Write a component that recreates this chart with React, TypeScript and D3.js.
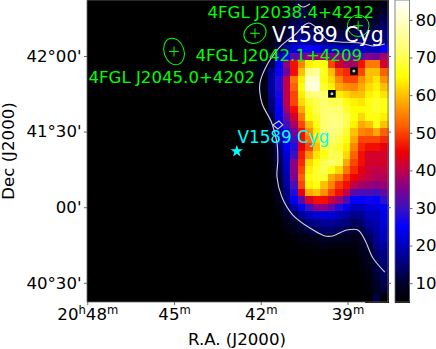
import React, { useEffect, useRef } from "react";
import * as d3 from "d3";

const FONT = "'DejaVu Sans', sans-serif";
const GREEN = "#00ff00";
const SPINE = "#666666";

// Map values per row, top to bottom. Each row is right-aligned on the last column,
// columns left of the listed values are under the colour floor.
const COLUMNS = 40;
const heatRows = [
  [9, 10, 9, 6, 5, 5, 5, 5, 5, 5, 5, 6, 8],
  [8, 11, 12, 10, 8, 6, 5, 5, 5, 5, 5, 7, 8, 10],
  [9, 12, 13, 11, 9, 8, 7, 7, 7, 7, 8, 9, 10, 12],
  [8, 10, 13, 14, 12, 11, 10, 9, 9, 9, 9, 10, 11, 12, 14],
  [6, 9, 11, 14, 15, 14, 13, 12, 12, 12, 11, 12, 13, 13, 13, 15],
  [7, 10, 13, 17, 19, 18, 16, 15, 15, 14, 13, 14, 15, 15, 15, 16],
  [5, 6, 8, 13, 18, 22, 26, 26, 24, 22, 21, 21, 20, 20, 20, 20, 20, 24],
  [5.5, 6.5, 8, 10, 20, 26, 32, 34, 36, 37, 37, 35, 36, 34, 33, 33, 35, 34, 38],
  [6, 7, 9, 12, 24, 36, 46, 55, 64, 66, 66, 50, 42, 38, 38, 46, 54, 54, 42],
  [6, 7, 10, 16, 26, 34, 46, 60, 74, 76, 67, 60, 50, 48, 46, 50, 60, 60, 52],
  [5.5, 6.5, 8, 18, 28, 40, 54, 64, 80, 80, 66, 62, 55, 50, 50, 56, 60, 63, 56],
  [6, 5, 5.5, 6.5, 8, 18, 28, 40, 52, 66, 82, 82, 68, 64, 58, 56, 55, 58, 62, 64, 60],
  [6, 7, 17, 27, 40, 50, 64, 72, 74, 72, 64, 64, 62, 60, 60, 64, 66, 63],
  [5.5, 6, 15, 26, 40, 50, 62, 68, 70, 72, 70, 70, 66, 64, 63, 66, 68, 66],
  [6, 14, 25, 38, 46, 58, 66, 70, 72, 72, 72, 68, 65, 65, 66, 68, 66],
  [5, 12, 24, 34, 42, 54, 65, 68, 72, 74, 73, 70, 66, 62, 66, 66, 64],
  [10, 22, 30, 38, 50, 60, 66, 72, 74, 74, 70, 64, 58, 60, 66, 60],
  [9, 20, 28, 34, 46, 56, 64, 72, 74, 72, 68, 60, 55, 54, 58, 52],
  [8, 18, 26, 30, 46, 54, 62, 70, 72, 70, 66, 58, 50, 50, 50, 48],
  [7, 16, 24, 28, 44, 50, 60, 68, 70, 68, 64, 55, 48, 46, 46, 44],
  [7, 14, 22, 30, 47, 56, 63, 66, 70, 70, 62, 52, 46, 42, 42, 42],
  [6, 13, 21, 36, 48, 62, 66, 70, 72, 70, 58, 50, 46, 42, 42, 42],
  [6, 12, 20, 36, 50, 64, 68, 70, 66, 62, 54, 48, 44, 41, 40, 41],
  [5.5, 11, 19, 35, 52, 66, 68, 68, 58, 55, 49, 45, 42, 40, 39, 39],
  [5.5, 10, 18, 31, 50, 64, 66, 60, 55, 49, 46, 40, 38, 37, 36, 37],
  [6, 9, 16, 28, 44, 58, 60, 56, 50, 46, 40, 32, 31, 31, 30, 33],
  [9, 15, 24, 32, 42, 46, 46, 41, 37, 31, 25, 25, 26, 25, 29],
  [7, 12, 18, 24, 30, 36, 36, 33, 28, 24, 20, 20, 22, 22, 24],
  [6, 10, 13, 17, 20, 22, 22, 22, 20, 18, 16, 17, 20, 20, 23],
  [8, 10, 12, 15, 16, 17, 17, 16, 15, 13, 14, 18, 19, 22],
  [6, 8, 10, 12, 13, 14, 14, 13, 12, 11, 12, 15, 18, 21],
  [6, 7, 8, 9, 10, 10, 9, 9, 8, 10, 13, 17, 20],
  [6, 6, 7, 8, 7, 7, 7, 7, 9, 11, 16, 18],
  [5.5, 5.5, 5.5, 5.5, 5.5, 6, 7.5, 10, 14, 16],
  [7, 9, 13, 15],
  [6, 8, 12, 14],
  [7, 11, 13],
  [6.5, 10, 12],
  [6, 9, 11],
  [5.5, 12, 5],
];

// Colour map, value -> colour
const colorValues = [5, 10, 15, 25, 30, 35, 40, 45, 52, 60, 65, 72, 80, 85.3];
const colorStops = [
  "#000000", "#000028", "#00007a", "#0000ff", "#3a10c0", "#80008f", "#c0004a",
  "#f00000", "#ff6000", "#ffc000", "#ffff00", "#ffff70", "#ffffc8", "#ffffff",
];

const raTicks = [48, 45, 42, 39];
const decTicks = [42, 41.5, 41, 40.5];
const decTickLabels = ["42°00'", "41°30'", "00'", "40°30'"];
const colorbarTicks = [10, 20, 30, 40, 50, 60, 70, 80];

// Contour lines in RA minutes / Dec degrees
const contourMain: [number, number][] = [
  [37.71, 42.079], [38.12, 42.066], [38.57, 42.086], [39.26, 42.093], [39.61, 42.099],
  [39.71, 42.106], [40.06, 42.185], [40.34, 42.218], [40.54, 42.198], [40.75, 42.152],
  [41.06, 42.106], [41.27, 42.073], [41.51, 42.02], [41.75, 41.954], [42.03, 41.821],
  [41.96, 41.689], [41.62, 41.557], [41.44, 41.425], [41.41, 41.312], [41.44, 41.2],
  [41.27, 41.067], [40.89, 40.948], [40.3, 40.862], [39.78, 40.81], [39.51, 40.81],
  [39.02, 40.849], [38.64, 40.849], [38.4, 40.783], [38.12, 40.664], [37.71, 40.571],
];
const contourTop: [number, number][] = [[40.72, 42.344], [40.54, 42.324], [40.3, 42.344]];
const contourIsland: [number, number][] = [[41.58, 41.544], [41.37, 41.57], [41.24, 41.544], [41.41, 41.517]];

const sourceRa = [45.0, 42.2, 38.63];
const sourceDec = [42.03, 42.15, 42.2];
const sourceShape = [
  { rx: 10, ry: 13.6, rot: -18 },
  { rx: 11.6, ry: 9.6, rot: -30 },
  { rx: 10.8, ry: 10.8, rot: 0 },
];
const sourceLabels = [
  { text: "4FGL J2045.0+4202", x: 88.5, y: 83 },
  { text: "4FGL J2042.1+4209", x: 195.5, y: 61 },
  { text: "4FGL J2038.4+4212", x: 207.5, y: 18 },
];

const pulsarRa = [38.78, 39.54];
const pulsarDec = [41.9, 41.75];

const targetRa = 42.83;
const targetDec = 41.37;

const plot = { left: 87, right: 388, top: 0, bottom: 302 };
const bar = { left: 395, right: 409.5 };

const raScale = d3.scaleLinear().domain([48.01, 37.6]).range([plot.left, plot.right]);
const decScale = d3.scaleLinear().domain([42.3704, 40.3729]).range([plot.top, plot.bottom]);
const colScale = d3.scaleBand<number>().domain(d3.range(COLUMNS)).range([plot.left, plot.right]);
const rowScale = d3.scaleBand<number>().domain(d3.range(heatRows.length)).range([plot.top, plot.bottom]);
const barScale = d3.scaleLinear().domain([5, 85.3]).range([plot.bottom, plot.top]);
const color = d3.scaleLinear<string>().domain(colorValues).range(colorStops).clamp(true);

const contourLine = d3.line<[number, number]>()
  .x((d) => raScale(d[0]))
  .y((d) => decScale(d[1]))
  .curve(d3.curveCatmullRom.alpha(0.5));
const islandLine = d3.line<[number, number]>()
  .x((d) => raScale(d[0]))
  .y((d) => decScale(d[1]))
  .curve(d3.curveLinearClosed);

const star = d3.symbol().type(d3.symbolStar).size(48)();

export default function App() {
  const xAxisRef = useRef<SVGGElement>(null);
  const yAxisRef = useRef<SVGGElement>(null);
  const yRightRef = useRef<SVGGElement>(null);
  const barAxisRef = useRef<SVGGElement>(null);

  useEffect(() => {
    const style = (g: d3.Selection<SVGGElement, unknown, null, undefined>) => {
      g.select(".domain").remove();
      g.selectAll("line").attr("stroke", SPINE);
      g.selectAll("text").attr("fill", "#000").attr("font-family", FONT).attr("font-size", 16.6);
    };

    const x = d3.select(xAxisRef.current!);
    x.call(d3.axisBottom(raScale).tickValues(raTicks).tickSize(3).tickPadding(3));
    style(x);
    // hours and minutes are raised and smaller
    x.selectAll<SVGTextElement, number>("text").each(function (d, i) {
      const t = d3.select(this).text("").attr("dy", null).attr("y", 18);
      const sup = (s: string) =>
        t.append("tspan").attr("font-size", 11.6).attr("dy", -6).text(s);
      const base = (s: string) =>
        t.append("tspan").attr("dy", 6).text(s);
      if (i === 0) {
        t.append("tspan").text("20");
        sup("h");
        base(String(d));
      } else {
        t.append("tspan").text(String(d));
      }
      sup("m");
    });

    const y = d3.select(yAxisRef.current!);
    y.call(
      d3.axisLeft(decScale).tickValues(decTicks).tickSize(3).tickPadding(2.5)
        .tickFormat((_, i) => decTickLabels[i])
    );
    style(y);

    const yr = d3.select(yRightRef.current!);
    yr.call(d3.axisRight(decScale).tickValues(decTicks).tickSize(3).tickFormat(() => ""));
    style(yr);

    const b = d3.select(barAxisRef.current!);
    b.call(d3.axisRight(barScale).tickValues(colorbarTicks).tickSize(3).tickPadding(3));
    style(b);
  }, []);

  const barSteps = d3.range(plot.top, plot.bottom);

  return (
    <svg
      width={436}
      height={349}
      style={{ position: "absolute", left: 0, top: 0, background: "#fff" }}
    >
      <rect
        x={plot.left}
        y={plot.top}
        width={plot.right - plot.left}
        height={plot.bottom - plot.top}
        fill="#000"
      />
      <g shapeRendering="crispEdges">
        {heatRows.map((row, r) =>
          row.map((v, i) => {
            const c = COLUMNS - row.length + i;
            return (
              <rect
                key={r + "-" + c}
                x={colScale(c)}
                y={rowScale(r)}
                width={colScale.bandwidth() + 0.5}
                height={rowScale.bandwidth() + 0.5}
                fill={color(v)}
              />
            );
          })
        )}
      </g>

      <g fill="none" stroke="#d2d2d2" strokeWidth={1.1}>
        <path d={contourLine(contourMain) ?? ""} />
        <path d={contourLine(contourTop) ?? ""} />
        <path d={islandLine(contourIsland) ?? ""} />
      </g>

      {pulsarRa.map((ra, i) => (
        <g key={i} transform={`translate(${raScale(ra)},${decScale(pulsarDec[i])})`}>
          <rect x={-3.8} y={-3.8} width={7.6} height={7.6} fill="#000" />
          <circle r={1.5} fill="#c8c8c8" />
        </g>
      ))}

      {sourceRa.map((ra, i) => {
        const cx = raScale(ra);
        const cy = decScale(sourceDec[i]);
        const s = sourceShape[i];
        return (
          <g key={i} stroke={GREEN} strokeWidth={1} fill="none">
            <ellipse cx={cx} cy={cy} rx={s.rx} ry={s.ry} transform={`rotate(${s.rot} ${cx} ${cy})`} />
            <line x1={cx - 5} x2={cx + 5} y1={cy} y2={cy} />
            <line x1={cx} x2={cx} y1={cy - 5} y2={cy + 5} />
          </g>
        );
      })}

      <g fontFamily={FONT}>
        {sourceLabels.map((l) => (
          <text key={l.text} x={l.x} y={l.y} fill={GREEN} fontSize={16.6}>
            {l.text}
          </text>
        ))}
        <text x={272} y={41.5} fill="#fff" fontSize={20.4}>V1589 Cyg</text>
        <text x={237.5} y={143} fill="#00ffff" fontSize={16.8}>V1589 Cyg</text>
      </g>
      <path
        d={star ?? ""}
        fill="#00ffff"
        transform={`translate(${raScale(targetRa)},${decScale(targetDec)})`}
      />

      <rect
        x={plot.left}
        y={plot.top}
        width={plot.right - plot.left}
        height={plot.bottom - plot.top}
        fill="none"
        stroke={SPINE}
        strokeWidth={0.8}
      />
      <g ref={xAxisRef} transform={`translate(0,${plot.bottom})`} />
      <g ref={yAxisRef} transform={`translate(${plot.left},0)`} />
      <g ref={yRightRef} transform={`translate(${plot.right},0)`} />

      <g shapeRendering="crispEdges">
        {barSteps.map((py) => (
          <rect
            key={py}
            x={bar.left}
            y={py}
            width={bar.right - bar.left}
            height={1.5}
            fill={color(barScale.invert(py + 0.5))}
          />
        ))}
      </g>
      <rect
        x={bar.left}
        y={plot.top}
        width={bar.right - bar.left}
        height={plot.bottom - plot.top}
        fill="none"
        stroke={SPINE}
        strokeWidth={0.8}
      />
      <g ref={barAxisRef} transform={`translate(${bar.right},0)`} />

      <text x={237} y={345} textAnchor="middle" fontFamily={FONT} fontSize={16.6}>
        R.A. (J2000)
      </text>
      <text
        transform="translate(14,151) rotate(-90)"
        textAnchor="middle"
        fontFamily={FONT}
        fontSize={16.6}
      >
        Dec (J2000)
      </text>
    </svg>
  );
}
